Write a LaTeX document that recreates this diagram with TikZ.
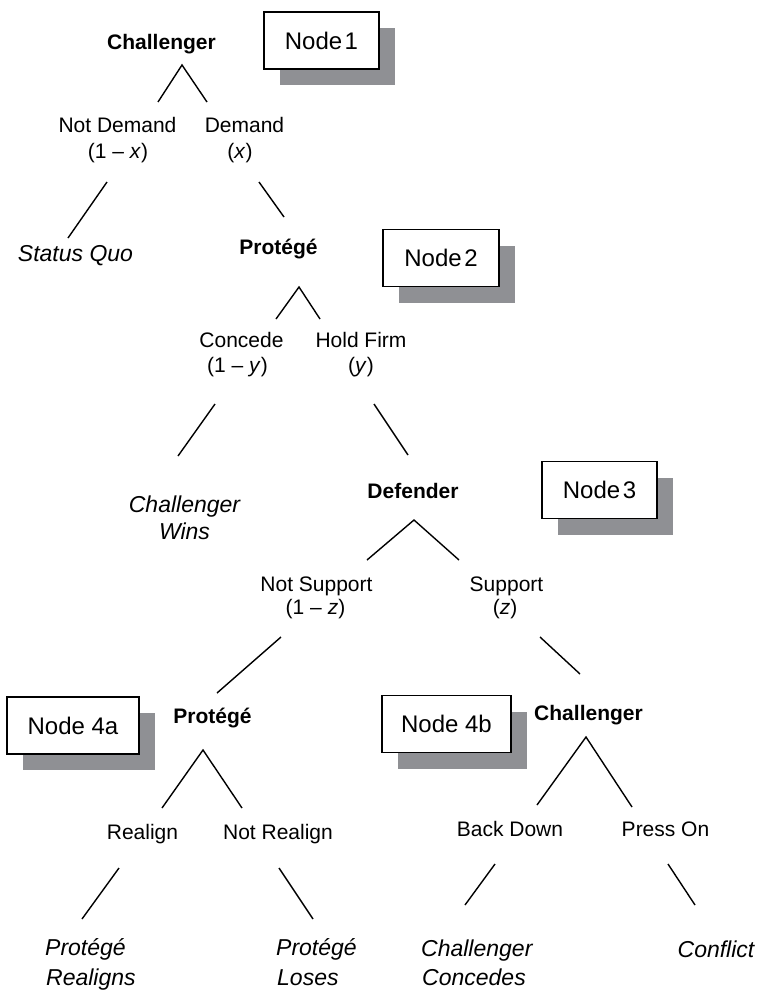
\documentclass[tikz,border=0pt]{standalone}
\usepackage{fontspec}
\setmainfont{Liberation Sans}
\usetikzlibrary{shadows}
\definecolor{shadowgray}{RGB}{143,144,148}
\begin{document}
\begin{tikzpicture}[x=1pt,y=-1pt,
  lbl/.style={font=\fontsize{21}{25}\selectfont, inner sep=0pt, anchor=base},
  plr/.style={font=\fontsize{21}{25}\selectfont\bfseries, inner sep=0pt, anchor=base},
  outc/.style={font=\fontsize{23}{27}\selectfont\itshape, inner sep=0pt, anchor=base},
  outl/.style={outc, anchor=base west},
  nodebox/.style={draw, line width=1.7pt, fill=white, font=\fontsize{24}{28}\selectfont,
    minimum height=57pt, text height=17pt, text depth=0pt, inner sep=0pt,
    general shadow={fill=shadowgray, shadow xshift=16pt, shadow yshift=-16pt}},
  br/.style={line width=1.4pt}]
\useasboundingbox (0,0) rectangle (760,990);

% node boxes
\node[nodebox, minimum width=115pt] (b1) at (321.5,40.5) {Node\kern2.5pt1};
\node[nodebox, minimum width=116pt] (b2) at (441,258) {Node\kern2.5pt2};
\node[nodebox, minimum width=115pt] (b3) at (599.5,490) {Node\kern2.5pt3};
\node[nodebox, minimum width=132pt] (b4a) at (73,725.5) {Node 4a};
\node[nodebox, minimum width=129pt] (b4b) at (446.5,724) {Node 4b};

% players
\node[plr] (ch1) at (161.5,49) {Challenger};
\node[plr] (pr1) at (278.5,254) {Protégé};
\node[plr] (df) at (413,498.5) {Defender};
\node[plr] (pr2) at (212.5,723) {Protégé};
\node[plr] (ch2) at (588.5,720) {Challenger};

% moves
\node[lbl] (nd) at (117.5,132) {Not Demand};
\node[lbl] (ndp) at (118,158) {(1 – \textit{x})};
\node[lbl] (dm) at (244.5,132) {Demand};
\node[lbl] (dmp) at (240,158) {(\textit{x})};
\node[lbl] (cn) at (241.5,347) {Concede};
\node[lbl] (cnp) at (237.5,372) {(1 – \textit{y})};
\node[lbl] (hf) at (361,347) {Hold Firm};
\node[lbl] (hfp) at (361,372) {(\textit{y})};
\node[lbl] (ns) at (316.5,591) {Not Support};
\node[lbl] (nsp) at (315.5,614) {(1 – \textit{z})};
\node[lbl] (sp) at (506.5,591) {Support};
\node[lbl] (spp) at (505,614) {(\textit{z})};
\node[lbl] (ra) at (142.5,839) {Realign};
\node[lbl] (nra) at (278,839) {Not Realign};
\node[lbl] (bd) at (510,836) {Back Down};
\node[lbl] (po) at (665.5,836) {Press On};

% outcomes
\node[outc] (sq) at (75.5,261) {Status Quo};
\node[outc] (cw1) at (184.5,512) {Challenger};
\node[outc] (cw2) at (184.5,539) {Wins};
\node[outl] (prr1) at (45,955) {Protégé};
\node[outl] (prr2) at (46,985) {Realigns};
\node[outl] (prl1) at (276,955) {Protégé};
\node[outl] (prl2) at (277,985) {Loses};
\node[outl] (cc1) at (421,956) {Challenger};
\node[outl] (cc2) at (422,985) {Concedes};
\node[outc] (cf) at (716,957) {Conflict};

% branch end points
\coordinate (a1) at (182,65);   \coordinate (a1l) at (158,102); \coordinate (a1r) at (207,102);
\coordinate (s1) at (107,182);  \coordinate (s1e) at (68,238);
\coordinate (d1) at (259,182);  \coordinate (d1e) at (284,217);
\coordinate (a2) at (299,287);  \coordinate (a2l) at (276,319); \coordinate (a2r) at (320,319);
\coordinate (c2) at (215,404);  \coordinate (c2e) at (178,456);
\coordinate (h2) at (374,404);  \coordinate (h2e) at (408,455);
\coordinate (a3) at (414,520);  \coordinate (a3l) at (367,560); \coordinate (a3r) at (459,560);
\coordinate (n3) at (281,637);  \coordinate (n3e) at (217,693);
\coordinate (p3) at (540,637);  \coordinate (p3e) at (580,674);
\coordinate (a4) at (203,750);  \coordinate (a4l) at (162,808); \coordinate (a4r) at (242,808);
\coordinate (a5) at (586,737);  \coordinate (a5l) at (537,805); \coordinate (a5r) at (632,807);
\coordinate (r4) at (119,868);  \coordinate (r4e) at (82,919);
\coordinate (q4) at (279,868);  \coordinate (q4e) at (313,919);
\coordinate (k5) at (495,864);  \coordinate (k5e) at (465,905);
\coordinate (o5) at (668,864);  \coordinate (o5e) at (695,905);

\draw[br] (a1l) -- (a1) -- (a1r);
\draw[br] (s1) -- (s1e);
\draw[br] (d1) -- (d1e);
\draw[br] (a2l) -- (a2) -- (a2r);
\draw[br] (c2) -- (c2e);
\draw[br] (h2) -- (h2e);
\draw[br] (a3l) -- (a3) -- (a3r);
\draw[br] (n3) -- (n3e);
\draw[br] (p3) -- (p3e);
\draw[br] (a4l) -- (a4) -- (a4r);
\draw[br] (a5l) -- (a5) -- (a5r);
\draw[br] (r4) -- (r4e);
\draw[br] (q4) -- (q4e);
\draw[br] (k5) -- (k5e);
\draw[br] (o5) -- (o5e);
\end{tikzpicture}
\end{document}
